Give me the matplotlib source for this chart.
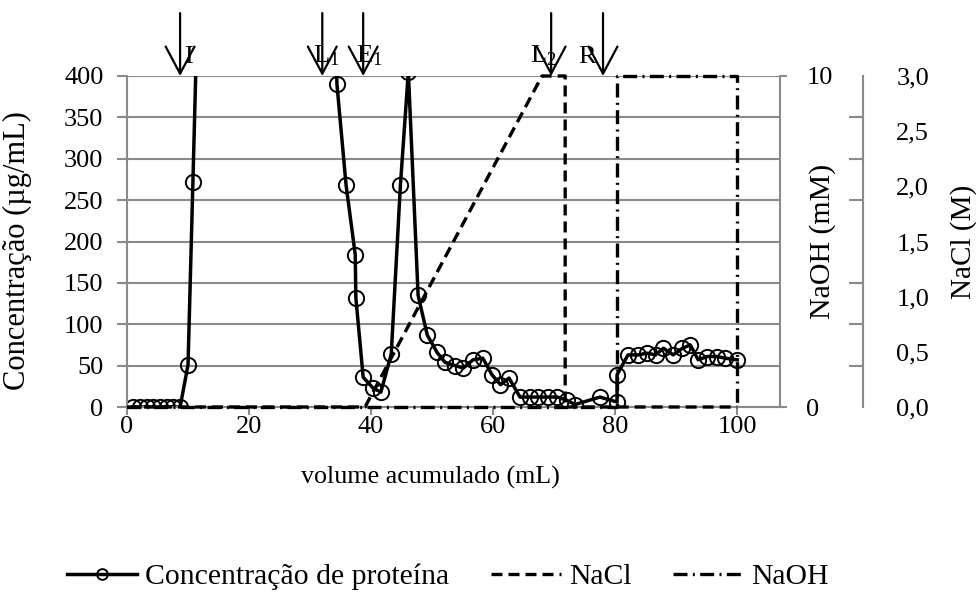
import matplotlib
matplotlib.use("Agg")
import matplotlib.pyplot as plt
from matplotlib.ticker import FixedLocator, FuncFormatter

plt.rcParams['font.family'] = ['Liberation Serif', 'DejaVu Serif']
plt.rcParams['mathtext.fontset'] = 'stix'

GRAY = "#8a8a8a"
FS = 19

# protein concentration (ug/mL) vs accumulated volume (mL); values above 400 are off-scale
vol_prot = [1.0, 2.1, 3.2, 4.3, 5.4, 6.5, 7.6, 8.7, 10.0, 10.8, 12.0,
            33.0, 34.4, 35.9, 37.4, 37.5, 38.7, 40.3, 41.6, 43.3, 44.8, 46.1,
            47.7, 49.2, 50.8, 52.1, 53.8, 55.1, 56.7, 58.3, 59.8, 61.2, 62.6,
            64.4, 66.1, 67.4, 69.0, 70.5, 72.1, 73.4, 77.5, 80.3, 80.3,
            82.1, 83.8, 85.2, 86.6, 87.9, 89.5, 91.0, 92.3, 93.6, 95.1, 96.7, 98.0, 100.0]
conc_prot = [0, 0, 0, 0, 0, 0, 0, 0, 51, 272, 610,
             900, 390, 268, 184, 132, 36, 23, 18, 64, 268, 405,
             135, 87, 66, 54, 50, 47, 57, 59, 39, 27, 35,
             12, 12, 12, 12, 12, 8, 3, 12, 6, 39,
             63, 63, 65, 63, 71, 63, 71, 75, 57, 61, 61, 59, 57]

# NaCl gradient (M)
vol_nacl = [0, 39.0, 68.0, 71.8, 71.8, 100.0]
conc_nacl = [0, 0, 3.0, 3.0, 0, 0]

# NaOH (mM)
vol_naoh = [0, 80.3, 80.3, 100.0, 100.0]
conc_naoh = [0, 0, 10, 10, 0]

# step markers
step_x = [8.7, 32.0, 38.7, 69.5, 78.0]
step_labels = ["I", r"L$_\mathregular{1}$", r"E$_\mathregular{1}$", r"L$_\mathregular{2}$", "R"]
step_label_x = [9.4, 30.4, 37.6, 66.1, 73.9]

fig = plt.figure(figsize=(9.8, 5.92), dpi=100)
ax = fig.add_axes([127 / 980, 1 - 407 / 592, 653 / 980, 331 / 592])
ax_naoh = ax.twinx()
ax_nacl = ax.twinx()

l_prot, = ax.plot(vol_prot, conc_prot, color="black", lw=2.5, marker="o", ms=11,
                  mfc="none", mec="black", mew=1.4, label="Concentração de proteína")
l_nacl, = ax_nacl.plot(vol_nacl, conc_nacl, color="black", lw=2.4,
                       dashes=(3.3, 1.8), label="NaCl", clip_on=False)
l_naoh, = ax_naoh.plot(vol_naoh, conc_naoh, color="black", lw=2.4,
                       dashes=(4.2, 1.6, 0.6, 1.6), label="NaOH", clip_on=False)

ax.set_xlim(0, 107)
ax.set_ylim(0, 400)
ax.set_xticks([0, 20, 40, 60, 80, 100])
ax.set_yticks(range(0, 401, 50))
ax.yaxis.grid(True, color=GRAY, lw=1.5)
ax.set_axisbelow(True)
for s in ["top", "right"]:
    ax.spines[s].set_visible(False)
for s in ["left", "bottom"]:
    ax.spines[s].set_color(GRAY)
    ax.spines[s].set_linewidth(1.5)
ax.tick_params(axis="both", colors=GRAY, labelcolor="black", labelsize=FS, width=1.5)
ax.tick_params(axis="y", length=7, pad=10)
ax.tick_params(axis="x", length=5.5, pad=1)
ax.set_ylabel("Concentração (µg/mL)", fontsize=22)
ax.yaxis.set_label_coords(-0.1455, 0.474)
ax.set_xlabel("volume acumulado (mL)", fontsize=18.7)
ax.xaxis.set_label_coords(0.464, -0.178)

# NaOH axis
ax_naoh.set_ylim(0, 10)
ax_naoh.set_yticks([0, 10])
for s in ["top", "left", "bottom"]:
    ax_naoh.spines[s].set_visible(False)
ax_naoh.spines["right"].set_color(GRAY)
ax_naoh.spines["right"].set_linewidth(1.5)
ax_naoh.tick_params(axis="y", colors=GRAY, labelcolor="black", labelsize=FS,
                    length=5, width=1.5, pad=14)
ax_naoh.set_ylabel("NaOH (mM)", fontsize=21.5)
ax_naoh.yaxis.set_label_coords(1.044, 0.5)

# NaCl axis
ax_nacl.set_ylim(0, 3)
ax_nacl.spines["right"].set_position(("axes", 736 / 653))
for s in ["top", "left", "bottom"]:
    ax_nacl.spines[s].set_visible(False)
ax_nacl.spines["right"].set_color(GRAY)
ax_nacl.spines["right"].set_linewidth(1.5)
ax_nacl.yaxis.set_major_locator(FixedLocator([0, 0.5, 1.0, 1.5, 2.0, 2.5, 3.0]))
ax_nacl.yaxis.set_major_formatter(FuncFormatter(lambda v, p: f"{v:.1f}".replace(".", ",")))
ax_nacl.yaxis.set_minor_locator(FixedLocator([i * 0.375 for i in range(9)]))
ax_nacl.tick_params(axis="y", which="major", length=0, pad=24, labelsize=FS)
ax_nacl.tick_params(axis="y", which="minor", direction="in", length=10,
                    width=1.5, colors=GRAY)
ax_nacl.set_ylabel("NaCl (M)", fontsize=21)
ax_nacl.yaxis.set_label_coords(1.260, 0.5)

# step arrows and labels above the plot
for x, lab, lx in zip(step_x, step_labels, step_label_x):
    ax.annotate("", xy=(x, 400), xytext=(x, 476), annotation_clip=False,
                arrowprops=dict(arrowstyle="->, head_length=0.75, head_width=0.4",
                                mutation_scale=26, lw=1.6, color="black",
                                shrinkA=0, shrinkB=0))
    ax.text(lx, 416, lab, fontsize=FS, ha="left", va="baseline", clip_on=False)

handles = [l_prot, l_nacl, l_naoh]
fig.legend(handles, [h.get_label() for h in handles], loc="center left",
           bbox_to_anchor=(67 / 980, 1 - 577 / 592), ncol=3, frameon=False,
           fontsize=21.4, handlelength=2.36, handletextpad=0.27, columnspacing=1.4,
           markerscale=0.7, borderpad=0, borderaxespad=0)

fig.savefig("out.png", dpi=100)
